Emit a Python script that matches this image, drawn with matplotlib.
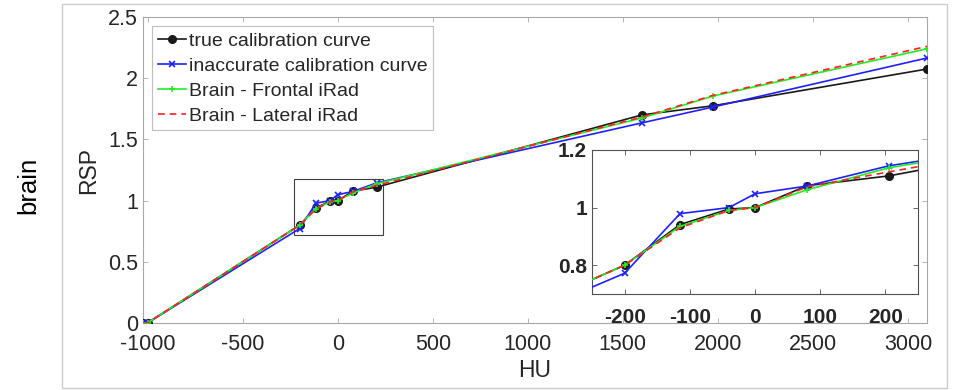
import numpy as np
import matplotlib
matplotlib.use("Agg")
import matplotlib.pyplot as plt
from matplotlib.patches import Rectangle

plt.rcParams['font.family'] = ['Liberation Sans', 'DejaVu Sans']
plt.rcParams['axes.unicode_minus'] = False

# HU sample points shared by all curves
hu = [-1024, -1000, -200, -115, -40, 0, 80, 205, 1600, 1975, 3100]

rsp_true = [0, 0.001, 0.80, 0.941, 0.995, 1.0, 1.076, 1.110, 1.70, 1.775, 2.075]
rsp_inacc = [0, 0.001, 0.772, 0.979, 1.0, 1.048, 1.075, 1.145, 1.635, 1.765, 2.165]
rsp_frontal = [0, 0.001, 0.80, 0.935, 0.99, 1.0, 1.062, 1.138, 1.675, 1.855, 2.24]
rsp_lateral = [0, 0.001, 0.80, 0.930, 0.99, 1.0, 1.072, 1.124, 1.683, 1.86, 2.26]

labels = ["true calibration curve", "inaccurate calibration curve",
          "Brain - Frontal iRad", "Brain - Lateral iRad"]

main_xticks = [-1000, -500, 0, 500, 1000, 1500, 2000, 2500, 3000]
main_yticks = [0, 0.5, 1, 1.5, 2, 2.5]
inset_xticks = [-200, -100, 0, 100, 200]
inset_yticks = [0.8, 1, 1.2]

tcol = '#262626'


def draw_curves(ax):
    ax.plot(hu, rsp_true, '-o', color='#1a1a1a', lw=1.2, ms=5.5, label=labels[0], zorder=3)
    ax.plot(hu, rsp_inacc, '-x', color='#2020ff', lw=1.2, ms=4.5, mew=1.2, label=labels[1], zorder=4)
    ax.plot(hu, rsp_frontal, '-+', color='#22ee22', lw=1.2, ms=4, mew=1.2, label=labels[2], zorder=5)
    ax.plot(hu, rsp_lateral, '--', color='#ff2020', lw=1.2, dashes=(4, 3), label=labels[3], zorder=6)


def style_axes(ax, spine_col, fs, weight, xpad):
    for s in ax.spines.values():
        s.set_color(spine_col)
        s.set_linewidth(0.8)
    ax.tick_params(direction='in', top=True, right=True, length=3.5, width=0.6,
                   color=spine_col, labelcolor=tcol, labelsize=fs)
    ax.tick_params(axis='x', pad=xpad)
    for lab in ax.get_xticklabels() + ax.get_yticklabels():
        lab.set_fontweight(weight)


fig = plt.figure(figsize=(9.55, 3.9), dpi=100)

# outer frame
fig.patches.append(Rectangle((62 / 955, 2 / 390), 885 / 955, 384 / 390,
                             transform=fig.transFigure, fill=False,
                             edgecolor='#cccccc', lw=1.0))

ax = fig.add_axes([0.1498, 0.1718, 0.8209, 0.7846])
draw_curves(ax)
ax.set_xlim(-1024, 3100)
ax.set_ylim(0, 2.5)
ax.set_xticks(main_xticks)
ax.set_yticks(main_yticks)
ax.set_yticklabels(['0', '0.5', '1', '1.5', '2', '2.5'])
style_axes(ax, '#a8a8a8', 15.5, 'normal', 8)
ax.set_xlabel("HU", fontsize=16.5, color=tcol, labelpad=3)
ax.set_ylabel("RSP", fontsize=16.5, color=tcol, labelpad=6)

ax.add_patch(Rectangle((-230, 0.72), 470, 0.46, fill=False, edgecolor='#404040', lw=0.8, zorder=2))

leg = ax.legend(loc='upper left', bbox_to_anchor=(0.0115, 0.97), borderaxespad=0,
                fontsize=14, frameon=True, fancybox=False, handlelength=1.45,
                handletextpad=0.15, labelspacing=0.38, borderpad=0.3)
leg.get_frame().set_edgecolor('#b0b0b0')
leg.get_frame().set_linewidth(0.8)
for t in leg.get_texts():
    t.set_color(tcol)

fig.text(28 / 955, 1 - 185 / 390, "brain", rotation=90, fontsize=18.5, ha='center', va='center')

# zoomed inset
axi = fig.add_axes([0.6199, 0.2462, 0.3414, 0.3692])
draw_curves(axi)
axi.set_xlim(-250, 250)
axi.set_ylim(0.7, 1.2)
axi.set_xticks(inset_xticks)
axi.set_yticks(inset_yticks)
axi.set_yticklabels(['0.8', '1', '1.2'])
style_axes(axi, '#505050', 15, 'bold', 10)

fig.savefig("out.png", dpi=100)
